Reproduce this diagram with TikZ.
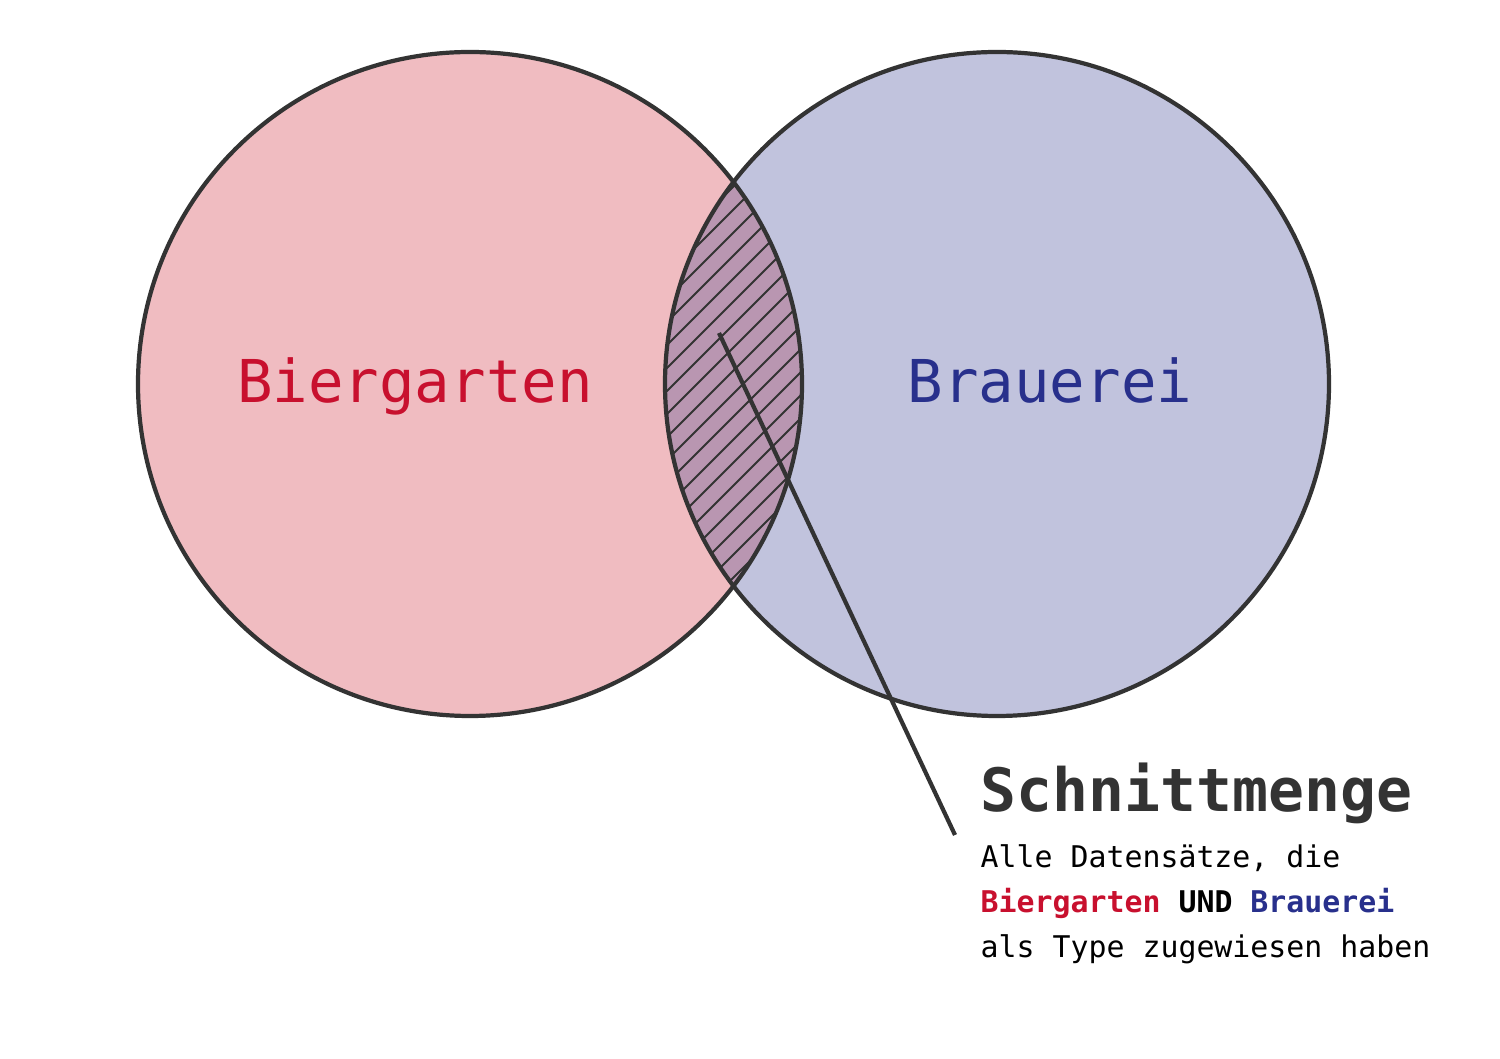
\documentclass[tikz,border=0pt]{standalone}
\usepackage{fontspec}
\setmonofont{DejaVu Sans Mono}
\usepackage{tikz}
\usepackage{xcolor}
\usetikzlibrary{positioning,calc}
\definecolor{gartenpink}{RGB}{240,188,193}
\definecolor{brauerblue}{RGB}{193,195,221}
\definecolor{schnittmix}{RGB}{185,150,177}
\definecolor{gartenred}{RGB}{200,16,46}
\definecolor{brauerdark}{RGB}{40,48,140}
\definecolor{linegray}{RGB}{51,51,51}

\begin{document}
\begin{tikzpicture}[
    setcircle/.style={draw=linegray, line width=1.2pt},
    hatch/.style={draw=linegray, line width=0.6pt},
    setlabel/.style={font=\ttfamily\fontsize{16.8}{20}\selectfont, anchor=base, inner sep=0},
    desc/.style={font=\ttfamily\fontsize{8.5}{10}\selectfont, anchor=base west, inner sep=0, text=black}
]
\useasboundingbox (0,0) rectangle (15,10.59);

% Circles (fill first)
\fill[gartenpink] (4.70,6.75) circle (3.32);
\fill[brauerblue] (9.97,6.75) circle (3.32);

% Intersection with hatching
\begin{scope}
    \clip (4.70,6.75) circle (3.32);
    \clip (9.97,6.75) circle (3.32);
    \fill[schnittmix] (6,2) rectangle (9,11);
    \foreach \c in {-12,...,12} {
        \draw[hatch] (6.0, 6.75+\c*0.23-1.2) -- (9.0, 6.75+\c*0.23+1.8);
    }
\end{scope}

% Outlines
\draw[setcircle] (4.70,6.75) circle (3.32);
\draw[setcircle] (9.97,6.75) circle (3.32);

% Set labels
\node[setlabel, text=gartenred] (garten) at (4.15,6.56) {Biergarten};
\node[setlabel, text=brauerdark] (brauerei) at (10.50,6.56) {Brauerei};

% Callout
\coordinate (lens) at (7.19,7.26);
\coordinate (callout) at (9.55,2.24);
\draw[linegray, line width=1.2pt] (lens) -- (callout);

\node[font=\ttfamily\bfseries\fontsize{17}{20}\selectfont, anchor=base west, inner sep=0, text=linegray] (title) at (9.80,2.47) {Schnittmenge};
\node[desc] (line1) at (9.80,1.91) {Alle Datensätze, die};
\node[desc] (line2) at (9.80,1.46) {\textbf{\textcolor{gartenred}{Biergarten} UND \textcolor{brauerdark}{Brauerei}}};
\node[desc] (line3) at (9.80,1.01) {als Type zugewiesen haben};

\end{tikzpicture}
\end{document}
